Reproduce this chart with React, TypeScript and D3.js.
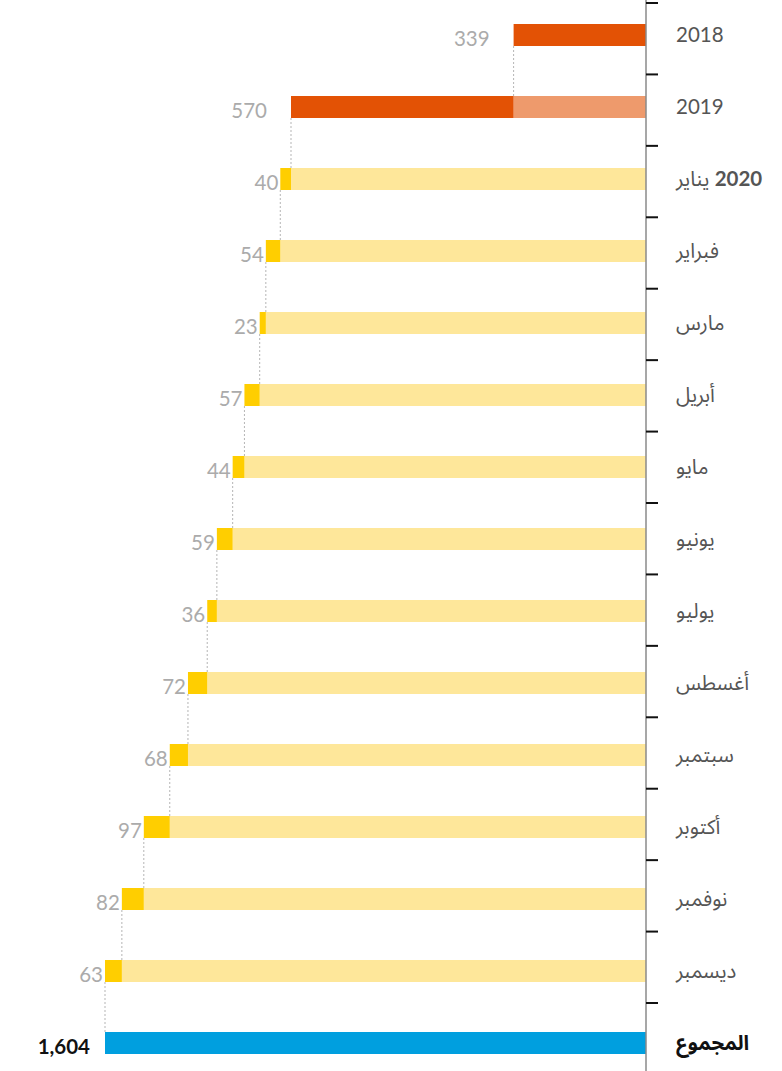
import React from "react";
import * as d3 from "d3";

const yearLabels = ["2018", "2019"];
const yearValues = [339, 570];
const monthLabels = ["يناير", "فبراير", "مارس", "أبريل", "مايو", "يونيو", "يوليو", "أغسطس", "سبتمبر", "أكتوبر", "نوفمبر", "ديسمبر"];
const monthValues = [40, 54, 23, 57, 44, 59, 36, 72, 68, 97, 82, 63];
const monthYear = "2020";
const totalLabel = "المجموع";

const W = 782;
const H = 1071;
const axisX = 646;
const barH = 22;

const FONT = "Lato, 'Noto Sans Arabic', 'DejaVu Sans', sans-serif";

interface Row {
  key: string;
  label: string;
  value: number;
  start: number;
  end: number;
  kind: "year" | "month" | "total";
}

function buildRows(): Row[] {
  const rows: Row[] = [];
  let cum = 0;
  yearLabels.forEach((l, i) => {
    rows.push({ key: "y" + i, label: l, value: yearValues[i], start: cum, end: cum + yearValues[i], kind: "year" });
    cum += yearValues[i];
  });
  monthLabels.forEach((l, i) => {
    rows.push({ key: "m" + i, label: l, value: monthValues[i], start: cum, end: cum + monthValues[i], kind: "month" });
    cum += monthValues[i];
  });
  rows.push({ key: "total", label: totalLabel, value: cum, start: 0, end: cum, kind: "total" });
  return rows;
}

export default function App() {
  const rows = buildRows();
  const yearsTotal = d3.sum(yearValues);
  const total = yearsTotal + d3.sum(monthValues);

  // the original stretches the years and the months differently
  const x = d3.scaleLinear().domain([0, yearsTotal, total]).range([axisX, 291, 105]);
  const y = d3.scalePoint<string>().domain(rows.map((r) => r.key)).range([35, 1043]);
  const tickY = d3.scaleLinear().domain([0, rows.length - 1]).range([3, 1003]);
  const fmt = d3.format(",");

  const segs: { key: string; x0: number; x1: number; yc: number; color: string }[] = [];
  rows.forEach((r) => {
    const yc = y(r.key)!;
    if (r.kind === "total") {
      segs.push({ key: r.key, x0: 0, x1: r.end, yc, color: "#009FDF" });
    } else if (r.kind === "year") {
      if (r.start > 0) segs.push({ key: r.key + "l", x0: 0, x1: r.start, yc, color: "#EE9A6C" });
      segs.push({ key: r.key + "d", x0: r.start, x1: r.end, yc, color: "#E35205" });
    } else {
      segs.push({ key: r.key + "l", x0: 0, x1: r.start, yc, color: "#FEE79A" });
      segs.push({ key: r.key + "d", x0: r.start, x1: r.end, yc, color: "#FFCE00" });
    }
  });

  return (
    <div>
      <style>{"body{margin:0}"}</style>
      <svg width={W} height={H} style={{ display: "block" }}>
        {/* connectors */}
        {rows.slice(0, -1).map((r, i) => (
          <line
            key={"c" + r.key}
            x1={x(r.end)}
            x2={x(r.end)}
            y1={y(r.key)! + barH / 2}
            y2={y(rows[i + 1].key)! - barH / 2}
            stroke="#b5b5b5"
            strokeWidth={1}
            strokeDasharray="2,2"
          />
        ))}
        {segs.map((s) => (
          <rect
            key={s.key}
            x={x(s.x1)}
            width={x(s.x0) - x(s.x1)}
            y={s.yc - barH / 2}
            height={barH}
            fill={s.color}
          />
        ))}
        {/* axis */}
        <line x1={axisX} x2={axisX} y1={0} y2={H} stroke="#8a8a8a" strokeWidth={1.5} />
        {d3.range(rows.length).map((i) => (
          <line key={"t" + i} x1={axisX} x2={axisX + 12} y1={tickY(i)} y2={tickY(i)} stroke="#111" strokeWidth={2} />
        ))}
        {/* value labels */}
        {rows.map((r) => {
          const off = r.kind === "year" ? 24 : r.kind === "total" ? 15 : 2;
          return (
            <text
              key={"v" + r.key}
              x={x(r.end) - off}
              y={y(r.key)! + 4}
              dy="0.35em"
              textAnchor="end"
              fontFamily={FONT}
              fontSize={20.5}
              fontWeight={r.kind === "total" ? 700 : 400}
              fill={r.kind === "total" ? "#111" : "#ababab"}
            >
              {r.kind === "total" ? fmt(r.value) : r.value}
            </text>
          );
        })}
        {/* category labels */}
        {rows.map((r) => (
          <text
            key={"l" + r.key}
            x={676}
            y={y(r.key)!}
            dy="0.35em"
            direction="rtl"
            textAnchor="end"
            fontFamily={FONT}
            fontSize={20.5}
            fontWeight={r.kind === "total" ? 700 : 400}
            fill={r.kind === "total" ? "#111" : "#555"}
          >
            {r.key === "m0" ? (
              <>
                <tspan fontWeight={700}>{monthYear}</tspan>
                {" " + r.label}
              </>
            ) : (
              r.label
            )}
          </text>
        ))}
      </svg>
    </div>
  );
}
